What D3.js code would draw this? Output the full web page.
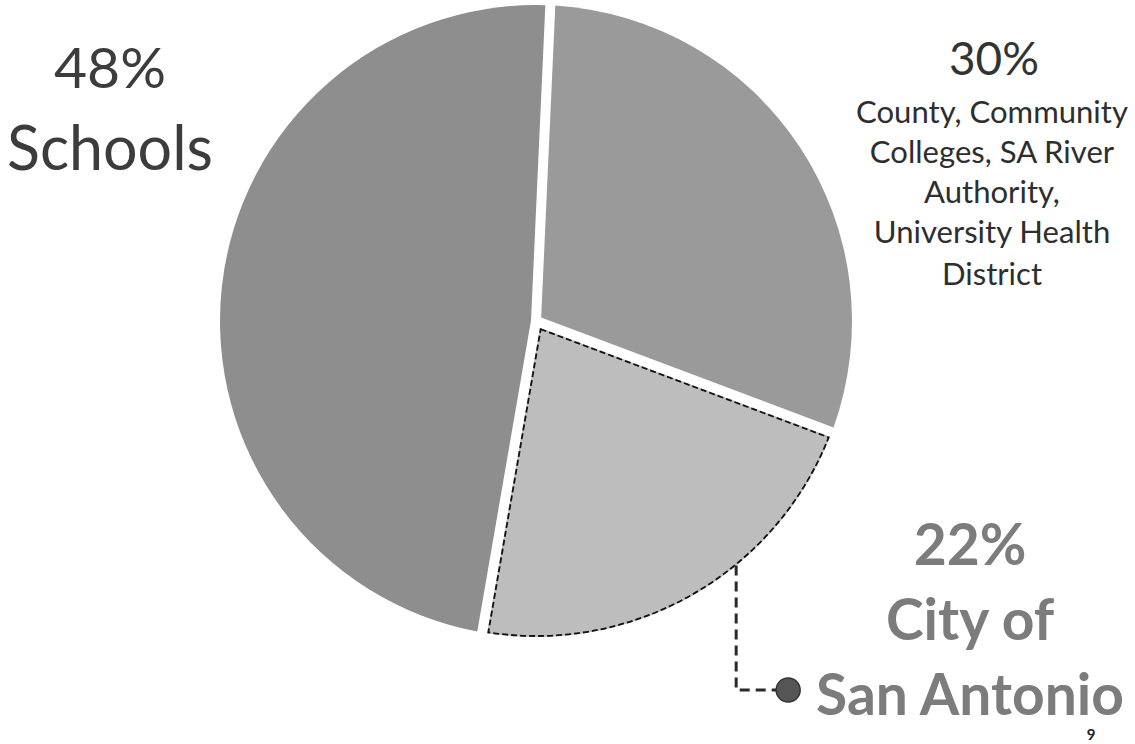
<!DOCTYPE html>
<html>
<head>
<meta charset="utf-8">
<script src="https://cdn.jsdelivr.net/npm/d3@7"></script>
<style>
  html, body { margin: 0; padding: 0; background: #fff; }
  svg { display: block; }
  text { font-family: Lato, "Open Sans", sans-serif; }
</style>
</head>
<body>
<svg id="chart" width="1135" height="744"></svg>
<script>
// shares of the property tax bill
const categories = ["County, Community Colleges, SA River Authority, University Health District", "City of San Antonio", "Schools"];
const shares = [30, 22, 48];
const fills = ["#9a9a9a", "#bdbdbd", "#8e8e8e"];

const label_30 = ["County, Community", "Colleges, SA River", "Authority,", "University Health", "District"];
const label_22 = ["City of", "San Antonio"];
const label_48 = ["Schools"];

const width = 1135;
const height = 744;
const cx = 536;
const cy = 321;
const radius = 316;
const half_gap = 5;
const start_offset = 2.6 * Math.PI / 180;

const svg = d3.select("#chart");
const g = svg.append("g").attr("transform", `translate(${cx},${cy})`);

const pie = d3.pie()
  .sort(null)
  .value((d) => d)
  .startAngle(start_offset)
  .endAngle(start_offset + 2 * Math.PI);

const arcs = pie(shares);

// sector with both radial edges pulled in by d, so the gap is even to the centre
function sector_path(a0, a1, r, d) {
  const half = (a1 - a0) / 2;
  const mid = (a0 + a1) / 2;
  const apex = d / Math.sin(Math.min(half, Math.PI / 2));
  const da = Math.asin(d / r);
  const p = d3.path();
  p.moveTo(apex * Math.sin(mid), -apex * Math.cos(mid));
  p.lineTo(r * Math.sin(a0 + da), -r * Math.cos(a0 + da));
  p.arc(0, 0, r, a0 + da - Math.PI / 2, a1 - da - Math.PI / 2);
  p.closePath();
  return p.toString();
}

g.selectAll("path.slice")
  .data(arcs)
  .join("path")
  .attr("class", "slice")
  .attr("d", (d) => sector_path(d.startAngle, d.endAngle, radius, half_gap))
  .attr("fill", (d, i) => fills[i]);

// dashed outline on the city slice
const city = arcs[1];
g.append("path")
  .attr("d", sector_path(city.startAngle, city.endAngle, radius - 1, half_gap + 1))
  .attr("fill", "none")
  .attr("stroke", "#111")
  .attr("stroke-width", 1.8)
  .attr("stroke-dasharray", "6,3");

// leader from the city slice to its label
const anchor_a = city.startAngle + 0.38 * (city.endAngle - city.startAngle);
const ax = cx + radius * Math.sin(anchor_a);
const ay = cy - radius * Math.cos(anchor_a);
const dot_y = 690;
const dot_x = ax + 52;
svg.append("path")
  .attr("d", `M${ax},${ay}V${dot_y}H${dot_x - 10}`)
  .attr("fill", "none")
  .attr("stroke", "#2a2a2a")
  .attr("stroke-width", 3)
  .attr("stroke-dasharray", "10,6");
svg.append("circle")
  .attr("cx", dot_x)
  .attr("cy", dot_y)
  .attr("r", 12)
  .attr("fill", "#555")
  .attr("stroke", "#333")
  .attr("stroke-width", 1.5);

// text sized to the widths in the slide
function fit_size(text, weight, target) {
  const t = svg.append("text")
    .attr("font-size", 100)
    .attr("font-weight", weight)
    .text(text);
  const w = t.node().getComputedTextLength();
  t.remove();
  return 100 * target / w;
}

function add_label(lines, x, baselines, size, weight, color) {
  svg.append("g")
    .selectAll("text")
    .data(lines)
    .join("text")
    .attr("x", x)
    .attr("y", (d, i) => baselines[i])
    .attr("text-anchor", "middle")
    .attr("font-size", size)
    .attr("font-weight", weight)
    .attr("fill", color)
    .text((d) => d);
}

const pct = (v) => `${v}%`;

add_label([pct(shares[2])], 110, [88], fit_size(pct(shares[2]), 400, 112), 400, "#3c3c3c");
add_label(label_48, 110, [170], fit_size(label_48[0], 400, 206), 400, "#3c3c3c");

add_label([pct(shares[0])], 994, [75], fit_size(pct(shares[0]), 400, 90), 400, "#333");
add_label(label_30, 992, [123, 163, 203, 243, 285], fit_size(label_30[0], 400, 272), 400, "#2e2e2e");

const city_size = fit_size(label_22[1], 700, 308);
add_label([pct(shares[1])], 970, [565], city_size, 700, "#7c7c7c");
add_label(label_22, 970, [640, 715], city_size, 700, "#7c7c7c");

svg.append("text")
  .attr("x", 1091)
  .attr("y", 740)
  .attr("text-anchor", "middle")
  .attr("font-size", 15)
  .attr("font-weight", 700)
  .attr("fill", "#222")
  .text("9");
</script>
</body>
</html>
